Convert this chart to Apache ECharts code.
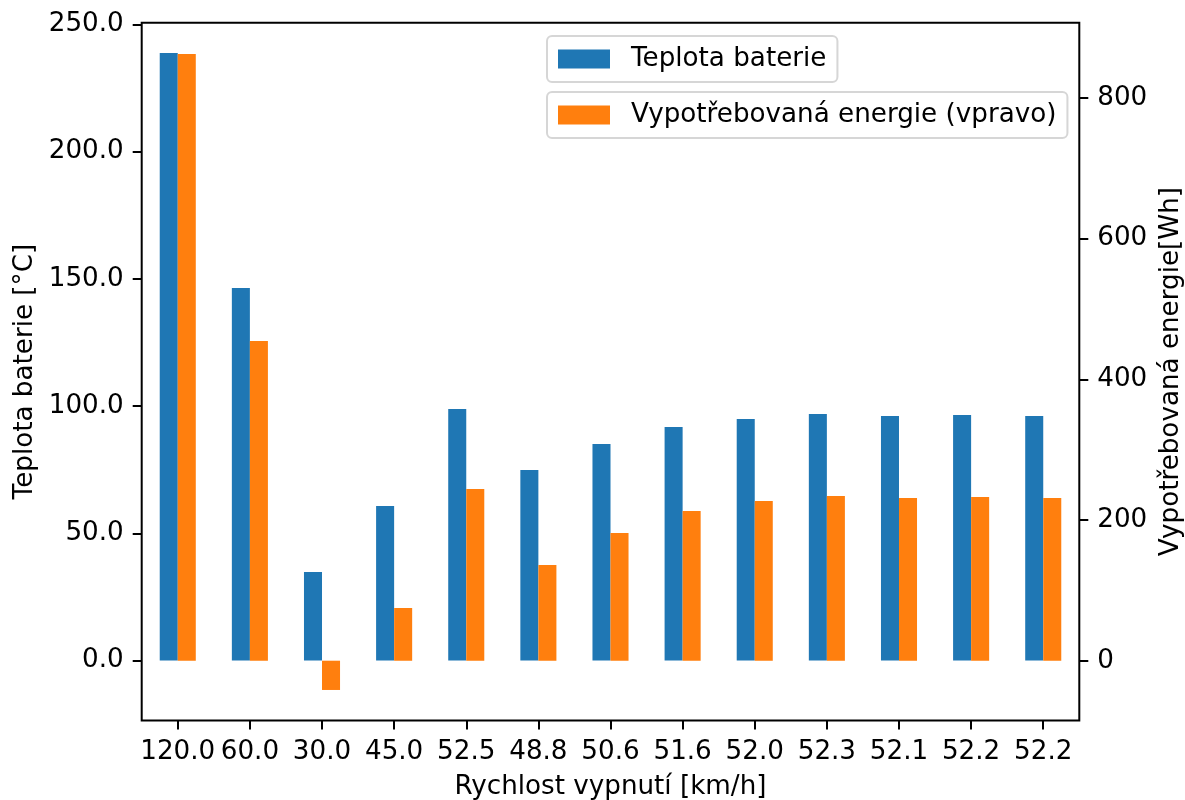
<!DOCTYPE html>
<html>
<head>
<meta charset="utf-8">
<script src="https://cdn.jsdelivr.net/npm/echarts@6/dist/echarts.min.js"></script>
<style>
  html, body { margin: 0; padding: 0; background: #fff; }
  #chart { width: 1185px; height: 800px; }
</style>
</head>
<body>
<div id="chart"></div>
<script>
// Cut-off speed for each run (x categories)
const categories = ['120.0', '60.0', '30.0', '45.0', '52.5', '48.8', '50.6', '51.6', '52.0', '52.3', '52.1', '52.2', '52.2'];
// Battery temperature [°C] (left axis)
const batteryTemp = [238.7, 146.4, 34.8, 60.7, 98.9, 74.9, 85.1, 91.8, 94.9, 96.9, 96.1, 96.5, 96.1];
// Consumed energy [Wh] (right axis)
const energyUsed = [862.4, 454.4, -41.6, 74.9, 244.1, 136.0, 181.5, 212.8, 227.0, 234.1, 231.3, 232.7, 231.3];
// Tick values
const leftTicks = [0, 50, 100, 150, 200, 250];
const rightTicks = [0, 200, 400, 600, 800];

const FONT = 'DejaVu Sans';
const FS = 26.2;
const BLUE = '#1f77b4';
const ORANGE = '#ff7f0e';

const chart = echarts.init(document.getElementById('chart'), null, { renderer: 'canvas' });

const tickStyle = { show: true, inside: false, length: 9, lineStyle: { color: '#000', width: 2 } };
const legendCommon = {
  left: 547,
  orient: 'horizontal',
  icon: 'rect',
  itemWidth: 52,
  itemHeight: 19,
  padding: [10, 11, 10, 11],
  backgroundColor: 'rgba(255,255,255,0.8)',
  borderColor: 'rgba(204,204,204,0.8)',
  borderWidth: 2,
  borderRadius: 5,
  selectedMode: false,
  textStyle: { fontFamily: FONT, fontSize: FS, color: '#000', padding: [0, 0, 0, 16] }
};

chart.setOption({
  animation: false,
  backgroundColor: '#fff',
  grid: {
    left: 141.7, top: 22.7, right: 105.7, bottom: 79.5,
    outerBoundsMode: 'none',
    containLabel: false,
    show: true, borderColor: '#000', borderWidth: 2, backgroundColor: 'transparent'
  },
  legend: [
    Object.assign({}, legendCommon, { top: 36, data: ['Teplota baterie'] }),
    Object.assign({}, legendCommon, { top: 92, data: ['Vypotřebovaná energie (vpravo)'] })
  ],
  xAxis: {
    type: 'category',
    data: categories,
    boundaryGap: true,
    axisLine: { show: false, onZero: false },
    axisTick: Object.assign({}, tickStyle, { alignWithLabel: true }),
    axisLabel: { interval: 0, margin: 19, fontFamily: FONT, fontSize: FS, color: '#000' },
    name: 'Rychlost vypnutí [km/h]',
    nameLocation: 'middle',
    nameGap: 54,
    nameTextStyle: { fontFamily: FONT, fontSize: FS, color: '#000' }
  },
  yAxis: [
    {
      type: 'value',
      position: 'left',
      min: -23.54,
      max: 250.65,
      splitLine: { show: false },
      axisLine: { show: false, onZero: false },
      axisTick: Object.assign({}, tickStyle, { customValues: leftTicks }),
      axisLabel: {
        customValues: leftTicks,
        margin: 18,
        fontFamily: FONT, fontSize: FS, color: '#000',
        formatter: v => Number(v).toFixed(1)
      },
      name: 'Teplota baterie [°C]',
      nameLocation: 'middle',
      nameRotate: 90,
      nameGap: 104,
      nameTextStyle: { fontFamily: FONT, fontSize: FS, color: '#000' }
    },
    {
      type: 'value',
      position: 'right',
      min: -85.0,
      max: 906.9,
      splitLine: { show: false },
      axisLine: { show: false, onZero: false },
      axisTick: Object.assign({}, tickStyle, { customValues: rightTicks }),
      axisLabel: {
        customValues: rightTicks,
        margin: 18,
        fontFamily: FONT, fontSize: FS, color: '#000',
        formatter: v => String(v)
      },
      name: 'Vypotřebovaná energie[Wh]',
      nameLocation: 'middle',
      nameRotate: 90,
      nameGap: 68,
      nameTextStyle: { fontFamily: FONT, fontSize: FS, color: '#000' }
    }
  ],
  series: [
    {
      name: 'Teplota baterie',
      type: 'bar',
      xAxisIndex: 0,
      yAxisIndex: 0,
      data: batteryTemp,
      barWidth: '25%',
      barGap: '0%',
      itemStyle: { color: BLUE }
    },
    {
      name: 'Vypotřebovaná energie (vpravo)',
      type: 'bar',
      xAxisIndex: 0,
      yAxisIndex: 1,
      data: energyUsed,
      barWidth: '25%',
      barGap: '0%',
      itemStyle: { color: ORANGE }
    }
  ]
});
</script>
</body>
</html>
